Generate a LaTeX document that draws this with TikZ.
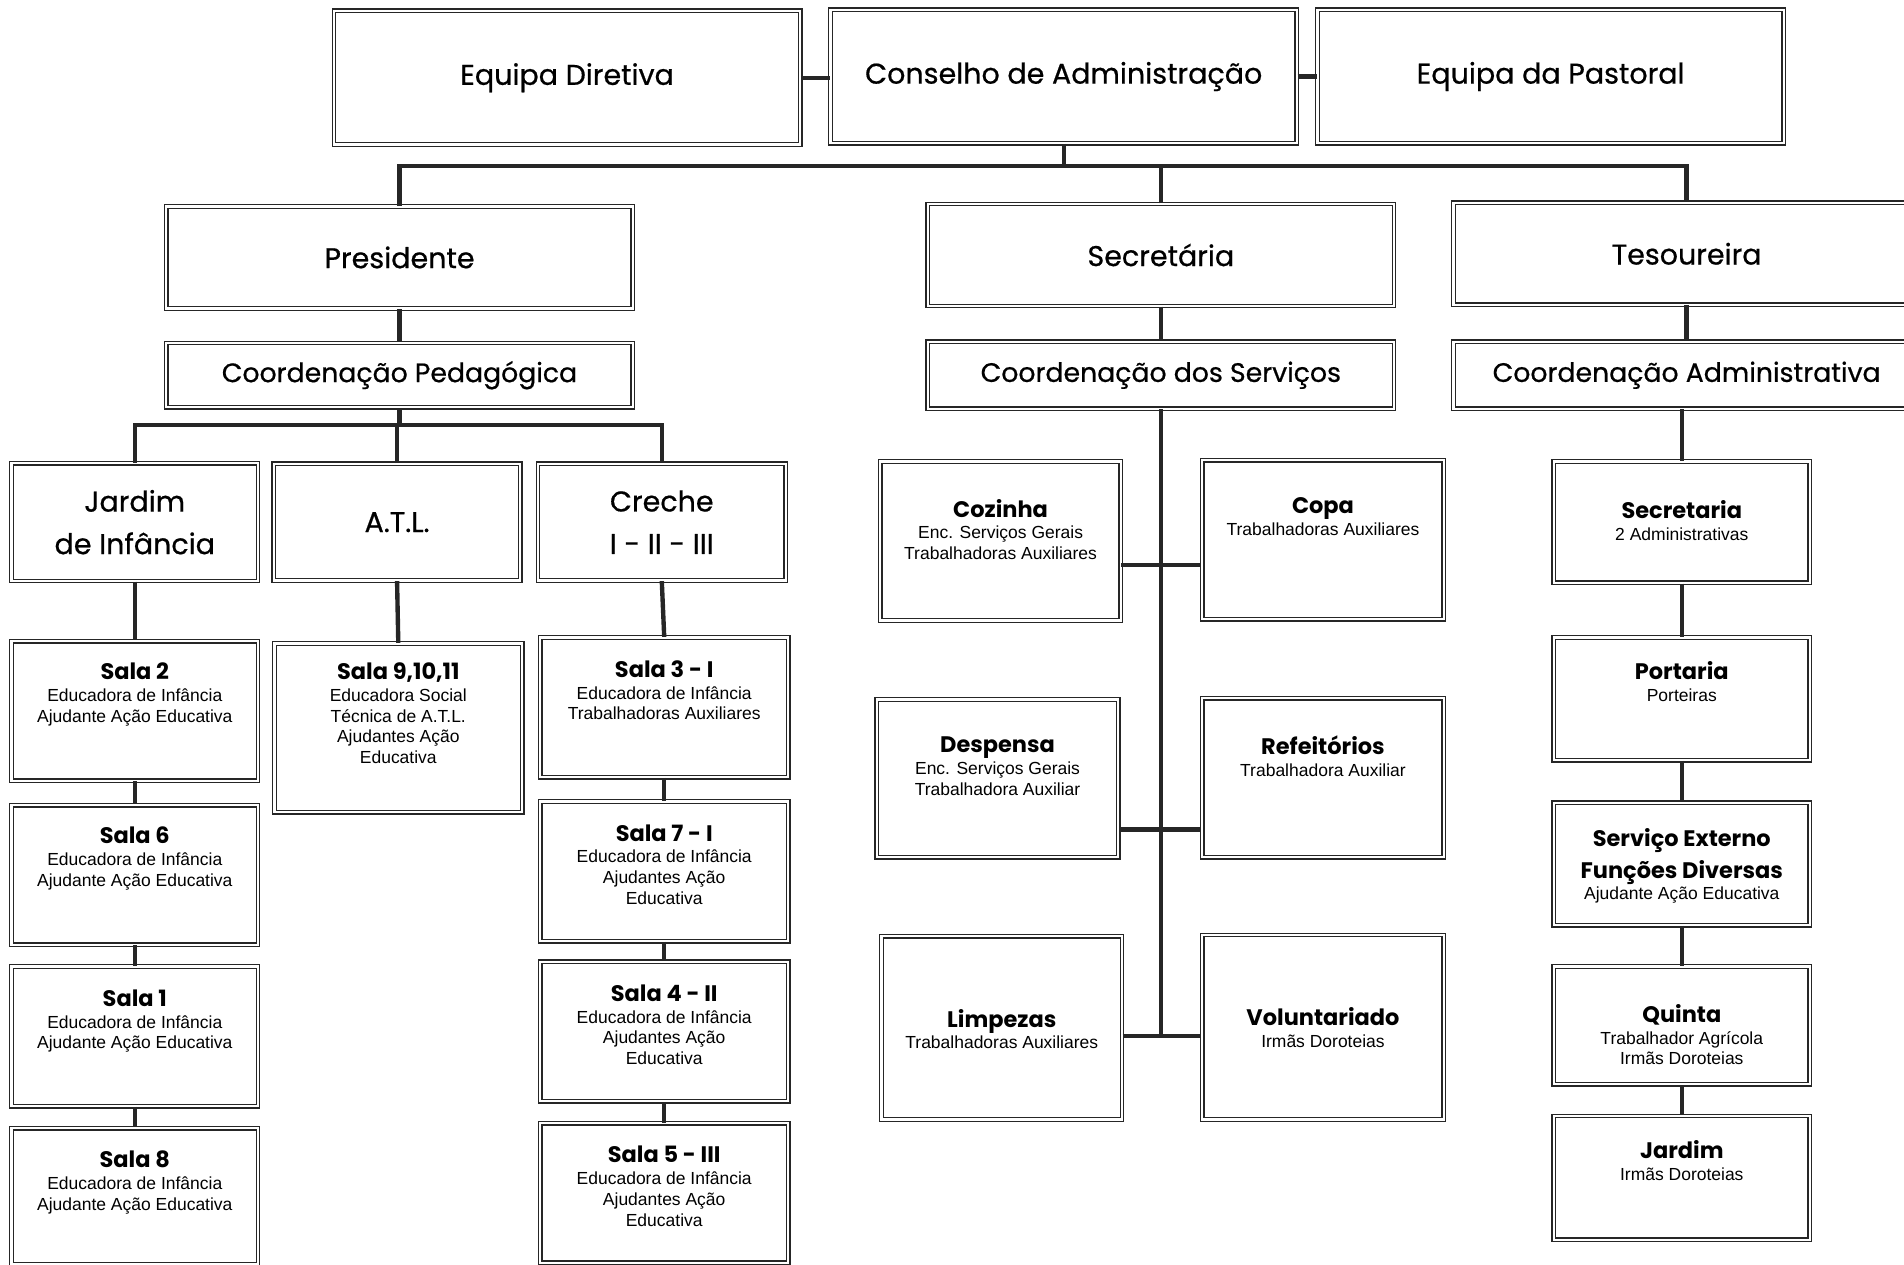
\documentclass[tikz,border=0pt]{standalone}
\usepackage{fontspec}
\setmainfont{Liberation Sans}
\newfontfamily\comic{Poppins}[FakeBold=0.6]
\newfontfamily\comicbf{Poppins}
\usepackage{tikz}
\usetikzlibrary{positioning, calc}
\newcommand{\hdfont}{\comic\fontsize{23.5}{30}\selectfont}
\newcommand{\crdfont}{\comic\fontsize{22}{30}\selectfont}
\newcommand{\bigfont}{\comic\fontsize{23.5}{35}\selectfont}
\newcommand{\ttlfont}{\comicbf\bfseries\fontsize{18.5}{27}\selectfont}
\newcommand{\subfont}{\fontsize{14.4}{17}\selectfont}
% caixa com texto alinhado em cima
\newcommand{\inbox}[4]{\begin{minipage}[c][#2pt][t]{#1pt}\centering\vspace*{#3pt}#4\end{minipage}}
\tikzset{
  % caixas com linha dupla
  cell/.style={draw=black!85, double, double distance=1.8pt, line width=1.1pt, fill=white, inner sep=0pt, align=center},
  head/.style={cell, minimum width=384pt, font=\hdfont},
  group/.style={cell, font=\bigfont},
  % ligacoes
  link/.style={line width=3.6pt, draw=black!85}
}
\begin{document}
\begin{tikzpicture}[x=1pt, y=-1pt]
  \useasboundingbox (0,0) rectangle (1568,1041);
  % topo
  \node[head, minimum height=110pt] (dir) at (467,64) {Equipa Diretiva};
  \node[head, minimum height=110pt] (cons) at (876,63) {Conselho de Administração};
  \node[head, minimum height=110pt] (past) at (1277,63) {Equipa da Pastoral};
  \draw[link] (dir.east) -- (dir.east -| cons.west);
  \draw[link] (cons.east) -- (cons.east -| past.west);
  % direcoes
  \node[head, minimum height=84pt] (pres) at (329,212) {Presidente};
  \node[head, minimum height=84pt] (secr) at (956,210) {Secretária};
  \node[head, minimum height=84pt] (tes) at (1389,209) {Tesoureira};
  \draw[link] (cons.south) -- ++(0,18) coordinate (bus);
  \draw[link] (pres.north) |- (tes.north |- bus) -- (tes.north);
  \draw[link] (secr.north) -- (secr.north |- bus);
  % coordenacoes
  \node[head, font=\crdfont, minimum height=53pt] (cped) at (329,309) {Coordenação Pedagógica};
  \node[head, font=\crdfont, minimum height=55pt] (cserv) at (956,309) {Coordenação dos Serviços};
  \node[head, font=\crdfont, minimum height=55pt] (cadm) at (1389,309) {Coordenação Administrativa};
  \draw[link] (pres.south) -- (cped.north);
  \draw[link] (secr.south) -- (cserv.north);
  \draw[link] (tes.south) -- (cadm.north);
  % valencias
  \node[group, minimum width=203pt, minimum height=97pt] (jard) at (111,430) {Jardim\\de Infância};
  \node[group, minimum width=203pt, minimum height=96pt] (atl) at (327,430) {A.T.L.};
  \node[group, minimum width=204pt, minimum height=96pt] (crec) at (545,430) {Creche\\I - II - III};
  \draw[link] (cped.south) -- ++(0,14) coordinate (bus2);
  \draw[link] (jard.north) |- (crec.north |- bus2) -- (crec.north);
  \draw[link] (atl.north) -- (atl.north |- bus2);
  % salas do jardim
  \node[cell] (s2) at (111,585.5) {\inbox{203}{115}{18}{{\ttlfont Sala 2\par}\vspace{1pt}{\subfont Educadora de Infância\\Ajudante Ação Educativa\par}}};
  \node[cell] (s6) at (111,720.5) {\inbox{203}{115}{18}{{\ttlfont Sala 6\par}\vspace{1pt}{\subfont Educadora de Infância\\Ajudante Ação Educativa\par}}};
  \node[cell] (s1) at (111,853.5) {\inbox{203}{115}{19}{{\ttlfont Sala 1\par}\vspace{1pt}{\subfont Educadora de Infância\\Ajudante Ação Educativa\par}}};
  \node[cell] (s8) at (111,985) {\inbox{203}{112}{19}{{\ttlfont Sala 8\par}\vspace{1pt}{\subfont Educadora de Infância\\Ajudante Ação Educativa\par}}};
  \draw[link] (jard.south) -- (s2.north);
  \draw[link] (s2.south) -- (s6.north);
  \draw[link] (s6.south) -- (s1.north);
  \draw[link] (s1.south) -- (s8.north);
  % sala do atl
  \node[cell] (s9) at (328,599.5) {\inbox{204}{139}{16}{{\ttlfont Sala 9,10,11\par}\vspace{1pt}{\subfont Educadora Social\\Técnica de A.T.L.\\Ajudantes Ação\\Educativa\par}}};
  \draw[link] (atl.south) -- (s9.north);
  % salas da creche
  \node[cell] (s3) at (547,582.5) {\inbox{204}{115}{19}{{\ttlfont Sala 3 - I\par}\vspace{1pt}{\subfont Educadora de Infância\\Trabalhadoras Auxiliares\par}}};
  \node[cell] (s7) at (547,717.5) {\inbox{204}{115}{19}{{\ttlfont Sala 7 - I\par}\vspace{1pt}{\subfont Educadora de Infância\\Ajudantes Ação\\Educativa\par}}};
  \node[cell] (s4) at (547,849.5) {\inbox{204}{115}{19}{{\ttlfont Sala 4 - II\par}\vspace{1pt}{\subfont Educadora de Infância\\Ajudantes Ação\\Educativa\par}}};
  \node[cell] (s5) at (547,982.5) {\inbox{204}{115}{19}{{\ttlfont Sala 5 - III\par}\vspace{1pt}{\subfont Educadora de Infância\\Ajudantes Ação\\Educativa\par}}};
  \draw[link] (crec.south) -- (s3.north);
  \draw[link] (s3.south) -- (s7.north);
  \draw[link] (s7.south) -- (s4.north);
  \draw[link] (s4.south) -- (s5.north);
  % servicos
  \node[cell] (coz) at (824,445.5) {\inbox{198}{131}{31}{{\ttlfont Cozinha\par}\vspace{1pt}{\subfont Enc. Serviços Gerais\\Trabalhadoras Auxiliares\par}}};
  \node[cell] (copa) at (1089.5,444.5) {\inbox{199}{131}{31}{{\ttlfont Copa\par}\vspace{1pt}{\subfont Trabalhadoras Auxiliares\par}}};
  \node[cell] (desp) at (821.5,641) {\inbox{199}{130}{31}{{\ttlfont Despensa\par}\vspace{1pt}{\subfont Enc. Serviços Gerais\\Trabalhadora Auxiliar\par}}};
  \node[cell] (refe) at (1089.5,640.5) {\inbox{199}{131}{31}{{\ttlfont Refeitórios\par}\vspace{1pt}{\subfont Trabalhadora Auxiliar\par}}};
  \node[cell] (limp) at (825,846.5) {\inbox{198}{151}{60}{{\ttlfont Limpezas\par}\vspace{1pt}{\subfont Trabalhadoras Auxiliares\par}}};
  \node[cell] (volu) at (1089.5,846) {\inbox{199}{152}{60}{{\ttlfont Voluntariado\par}\vspace{1pt}{\subfont Irmãs Doroteias\par}}};
  \draw[link] ([yshift=-20pt]coz.east) -- ([yshift=-20pt]coz.east -| copa.west);
  \draw[link] ([yshift=-42pt]desp.east) -- ([yshift=-42pt]desp.east -| refe.west);
  \draw[link] ([yshift=-6.5pt]limp.east) coordinate (lj) -- (lj -| volu.west);
  \draw[link] (cserv.south) -- (cserv.south |- lj);
  % administrativos
  \node[cell] (sec2) at (1385,430) {\inbox{211}{100}{32}{{\ttlfont Secretaria\par}\vspace{1pt}{\subfont 2 Administrativas\par}}};
  \node[cell] (port) at (1385,575.5) {\inbox{211}{101}{20}{{\ttlfont Portaria\par}\vspace{1pt}{\subfont Porteiras\par}}};
  \node[cell] (sext) at (1385,711.5) {\inbox{211}{101}{21}{{\ttlfont Serviço Externo\\Funções Diversas\par}\vspace{0pt}{\subfont Ajudante Ação Educativa\par}}};
  \node[cell] (quin) at (1385,844.5) {\inbox{211}{97}{31}{{\ttlfont Quinta\par}\vspace{1pt}{\subfont Trabalhador Agrícola\\Irmãs Doroteias\par}}};
  \node[cell] (jrd) at (1385,970) {\inbox{211}{102}{20}{{\ttlfont Jardim\par}\vspace{1pt}{\subfont Irmãs Doroteias\par}}};
  \draw[link] (sec2.north |- cadm.south) -- (sec2.north);
  \draw[link] (sec2.south) -- (port.north);
  \draw[link] (port.south) -- (sext.north);
  \draw[link] (sext.south) -- (quin.north);
  \draw[link] (quin.south) -- (jrd.north);
\end{tikzpicture}
\end{document}
